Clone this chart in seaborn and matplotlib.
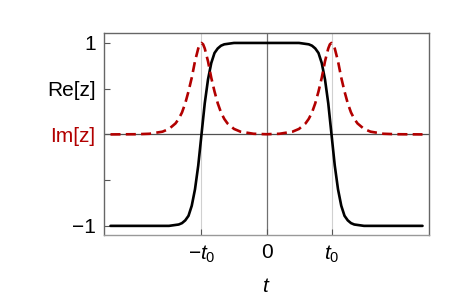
import numpy as np
import pandas as pd
import matplotlib
matplotlib.use('Agg')
import matplotlib.pyplot as plt
import seaborn as sns

# values (t in units of t0)
t_vals = [-2.4, -2.0, -1.8, -1.6, -1.5, -1.4, -1.35, -1.3, -1.25, -1.2, -1.15, -1.1, -1.05, -1.025,
          -1.0, -0.975, -0.95, -0.9, -0.85, -0.8, -0.75, -0.7, -0.65, -0.6, -0.5, -0.4, -0.2,
          0.0, 0.2, 0.4, 0.5, 0.6, 0.65, 0.7, 0.75, 0.8, 0.85, 0.9, 0.95, 0.975,
          1.0, 1.025, 1.05, 1.1, 1.15, 1.2, 1.25, 1.3, 1.35, 1.4, 1.5, 1.6, 1.8, 2.0, 2.4]
re_vals = [-1.0, -1.0, -1.0, -1.0, -1.0, -0.99, -0.985, -0.97, -0.94, -0.89, -0.78, -0.60, -0.34, -0.17,
           0.0, 0.17, 0.34, 0.60, 0.78, 0.89, 0.94, 0.97, 0.985, 0.99, 1.0, 1.0, 1.0,
           1.0, 1.0, 1.0, 1.0, 0.99, 0.985, 0.97, 0.94, 0.89, 0.78, 0.60, 0.34, 0.17,
           0.0, -0.17, -0.34, -0.60, -0.78, -0.89, -0.94, -0.97, -0.985, -0.99, -1.0, -1.0, -1.0, -1.0, -1.0]
im_vals = [0.0, 0.002, 0.007, 0.03, 0.06, 0.12, 0.17, 0.24, 0.34, 0.47, 0.62, 0.80, 0.94, 0.985,
           1.0, 0.985, 0.94, 0.80, 0.62, 0.47, 0.34, 0.24, 0.17, 0.12, 0.06, 0.03, 0.007,
           0.002, 0.007, 0.03, 0.06, 0.12, 0.17, 0.24, 0.34, 0.47, 0.62, 0.80, 0.94, 0.985,
           1.0, 0.985, 0.94, 0.80, 0.62, 0.47, 0.34, 0.24, 0.17, 0.12, 0.06, 0.03, 0.007, 0.002, 0.0]

x_ticks = [-1, 0, 1]
x_ticklabels = ['$-t_0$', '0', '$t_0$']
y_ticks = [-1, -0.5, 0, 0.5, 1]
y_ticklabels = ['\u22121', '', 'Im[z]', 'Re[z]', '1']

sns.set_style('ticks')
plt.rcParams['font.family'] = ['Liberation Sans', 'DejaVu Sans']
plt.rcParams['mathtext.fontset'] = 'custom'
plt.rcParams['mathtext.rm'] = 'Liberation Sans'
plt.rcParams['mathtext.it'] = 'Liberation Sans:italic'
plt.rcParams['text.color'] = 'black'
plt.rcParams['xtick.labelcolor'] = 'black'
plt.rcParams['ytick.labelcolor'] = 'black'
plt.rcParams['axes.labelcolor'] = 'black'

df = pd.DataFrame({'t': t_vals, 're': re_vals, 'im': im_vals})

dark_red = '#b20000'
fig = plt.figure(figsize=(4.63, 2.99), dpi=100)
ax = fig.add_axes([0.2246, 0.214, 0.702, 0.676])

# guide lines
for xv in [-1, 1]:
    ax.axvline(xv, color='#d0d0d0', lw=0.8, zorder=0)
ax.axvline(0, color='#707070', lw=0.9, zorder=0)
ax.axhline(0, color='#505050', lw=0.9, zorder=0)

sns.lineplot(data=df, x='t', y='re', ax=ax, color='black', lw=1.9, sort=False)
sns.lineplot(data=df, x='t', y='im', ax=ax, color=dark_red, lw=1.9, sort=False,
             dashes=False, linestyle=(0, (3.8, 2)))

ax.set_xlim(-2.5, 2.5)
ax.set_ylim(-1.1, 1.11)
ax.set_xticks(x_ticks)
ax.set_xticklabels(x_ticklabels, fontsize=15)
ax.set_yticks(y_ticks)
ax.set_yticklabels(y_ticklabels, fontsize=15)
for lab in ax.get_xticklabels() + ax.get_yticklabels():
    lab.set_color('black')
ax.get_yticklabels()[2].set_color(dark_red)
ax.tick_params(direction='in', length=4, width=0.8, color='#555555', pad=6)
ax.set_xlabel('$t$', fontsize=15, labelpad=9, color='black')
ax.set_ylabel('')
for sp in ax.spines.values():
    sp.set_color('#666666')
    sp.set_linewidth(1.0)
ax.spines['bottom'].set_color('#999999')

fig.savefig('out.png', dpi=100)
